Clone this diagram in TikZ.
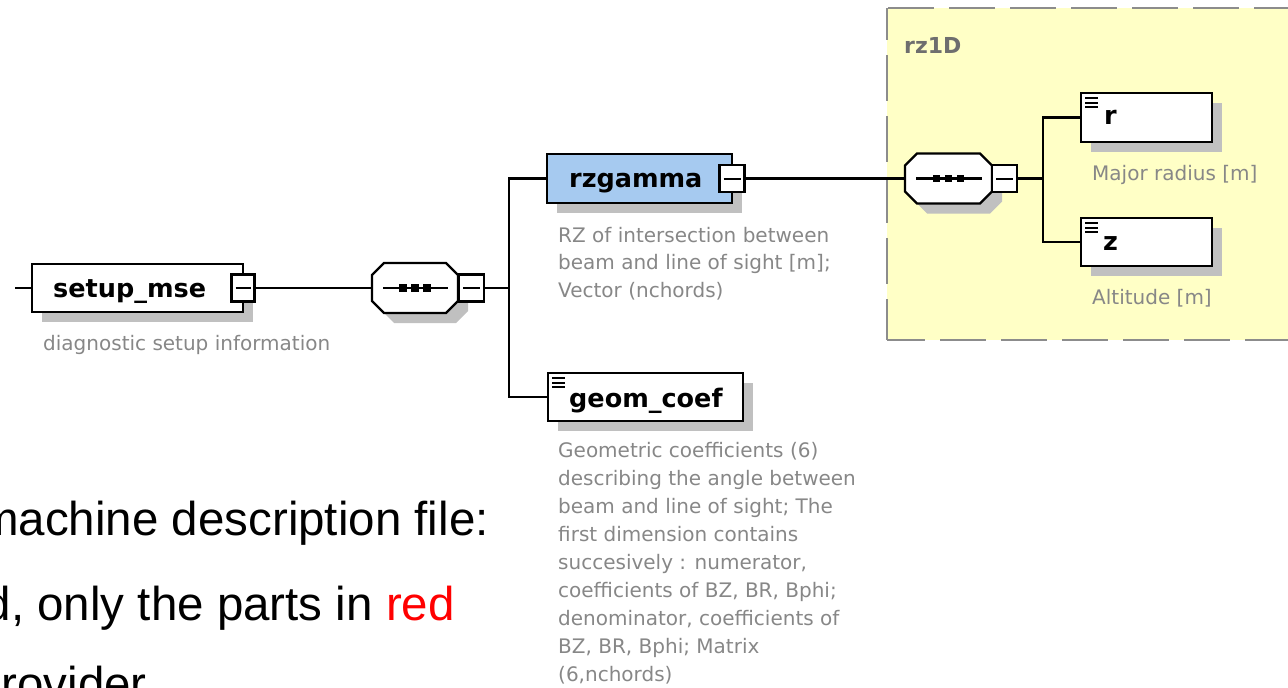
\documentclass[tikz,border=0pt]{standalone}
\usepackage{fontspec}
\setmainfont{DejaVu Sans}
\newfontfamily\slidefont{Liberation Sans}
\usetikzlibrary{calc}
\pgfdeclarelayer{bg}
\pgfdeclarelayer{shadow}
\pgfsetlayers{bg,shadow,main}

\definecolor{descgray}{RGB}{135,135,135}
\definecolor{shadowgray}{RGB}{192,192,192}
\definecolor{rzblue}{RGB}{166,202,240}
\definecolor{yellowbg}{RGB}{255,255,198}
\definecolor{dashgray}{RGB}{140,140,140}
\definecolor{labelgray}{RGB}{110,110,110}
\definecolor{slidered}{RGB}{255,0,0}

\newcommand{\titlefont}{\fontsize{25.5}{30}\selectfont\bfseries}
\newcommand{\descfont}{\fontsize{20}{27.8}\selectfont}
\newcommand{\octpath}[2]{($(#1.north west)+({12+#2},{#2})$) -- ($(#1.north east)+({-12+#2},{#2})$) -- ($(#1.north east)+({#2},{12+#2})$) -- ($(#1.south east)+({#2},{-12+#2})$) -- ($(#1.south east)+({-12+#2},{#2})$) -- ($(#1.south west)+({12+#2},{#2})$) -- ($(#1.south west)+({#2},{-12+#2})$) -- ($(#1.north west)+({#2},{12+#2})$) -- cycle}
\newcommand{\boxshadow}[1]{\fill[shadowgray] ($(#1.north west)+(10,10)$) rectangle ($(#1.south east)+(10,10)$);}
\newcommand{\seqdots}[1]{%
  \draw[line width=2.2pt] ($(#1.west)+(11,0)$) -- ($(#1.east)+(-10,0)$);
  \foreach \dx in {-12,0,12}{\fill ($(#1.center)+(\dx,0)+(-3.8,-3.8)$) rectangle +(7.6,7.6);}}
\newcommand{\equivicon}[1]{%
  \foreach \dy in {5,9.5,14}{\draw[line width=2pt] ($(#1.north west)+(4,\dy)$) -- +(13,0);}}

\begin{document}
\begin{tikzpicture}[x=1pt,y=-1pt,
  elbox/.style={draw=black, line width=2.4pt, fill=white, anchor=north west, inner sep=0pt, outer sep=0pt},
  seqbox/.style={draw=none, anchor=north west, inner sep=0pt, outer sep=0pt},
  minusbox/.style={draw=black, line width=2.2pt, fill=white, minimum width=25, minimum height=27, inner sep=0pt, outer sep=0pt,
    path picture={\draw[line width=2pt] ($(path picture bounding box.west)+(4,0)$) -- ($(path picture bounding box.east)+(-4,0)$);}},
  conn/.style={draw=black, line width=2.2pt},
  titletext/.style={anchor=base west, inner sep=0pt, font=\titlefont, text=black},
  desctext/.style={anchor=base west, inner sep=0pt, font=\descfont, text=descgray},
  slidetext/.style={inner sep=0pt, font=\slidefont\fontsize{47.5}{57}\selectfont, text=black},
  dashedge/.style={draw=dashgray, line width=2.2pt, dash pattern=on 46pt off 15pt}
]
\useasboundingbox (0,0) rectangle (1288,688);

% rz1D group background
\begin{pgfonlayer}{bg}
  \fill[yellowbg] (887,8) rectangle (1288,340);
  \draw[dashedge] (888,8) -- (1288,8);
  \draw[dashedge, dash phase=14pt] (887,8) -- (887,340);
  \draw[dashedge, dash phase=8pt] (887,340) -- (1288,340);
\end{pgfonlayer}
\node[anchor=base west, inner sep=0pt, font=\fontsize{22}{26}\selectfont\bfseries, text=labelgray] (rzlabel) at (904,53) {rz1D};

% setup_mse
\coordinate (start) at (15,288);
\node[elbox, minimum width=211, minimum height=48] (setup) at (32,264) {};
\node[titletext] (setupT) at (53,297) {setup\_mse};
\node[minusbox, minimum width=23] (setupM) at (setup.east) {};
\node[desctext] (setupD) at (43,350) {diagnostic setup information};

% sequence 1
\node[seqbox, minimum width=86, minimum height=50] (seq1) at (372,263) {};
\draw[line width=2.4pt, fill=white] \octpath{seq1}{0};
\seqdots{seq1}
\node[minusbox, anchor=west] (seq1M) at ($(seq1.east)+(1,0)$) {};
\coordinate (j1) at (509,288);

% rzgamma
\node[elbox, fill=rzblue, minimum width=185, minimum height=49] (rz) at (547,154) {};
\node[titletext] (rzT) at (569,187) {rzgamma};
\node[minusbox] (rzM) at (rz.east) {};
\node[desctext] (rzD) at (558,242) {\begin{tabular}[t]{@{}l@{}}RZ of intersection between\\beam and line of sight [m];\\Vector (nchords)\end{tabular}};

% geom_coef
\node[elbox, minimum width=195, minimum height=48] (geom) at (548,373) {};
\node[titletext] (geomT) at (569,407) {geom\_coef};
\node[desctext] (geomD) at (558,457) {\fontsize{20}{28}\selectfont\begin{tabular}[t]{@{}l@{}}Geometric coefficients (6)\\describing the angle between\\beam and line of sight; The\\first dimension contains\\succesively : numerator,\\coefficients of BZ, BR, Bphi;\\denominator, coefficients of\\BZ, BR, Bphi; Matrix\\(6,nchords)\end{tabular}};

% sequence 2
\node[seqbox, minimum width=87, minimum height=50] (seq2) at (905,153.5) {};
\draw[line width=2.4pt, fill=white] \octpath{seq2}{0};
\seqdots{seq2}
\node[minusbox, anchor=west] (seq2M) at (seq2.east) {};
\coordinate (j2) at (1043,178.5);

% r and z
\node[elbox, minimum width=131, minimum height=49] (r) at (1081,93) {};
\node[titletext] (rT) at (1104,124) {r};
\node[desctext] (rD) at (1092,180) {Major radius [m]};
\node[elbox, minimum width=131, minimum height=48] (z) at (1081,218) {};
\node[titletext] (zT) at (1103,250) {z};
\node[desctext] (zD) at (1092,304) {Altitude [m]};

\equivicon{geom}
\equivicon{r}
\equivicon{z}

% shadows
\begin{pgfonlayer}{shadow}
  \boxshadow{setup}
  \boxshadow{rz}
  \boxshadow{geom}
  \boxshadow{r}
  \boxshadow{z}
  \fill[shadowgray] \octpath{seq1}{10};
  \fill[shadowgray] \octpath{seq2}{10};
\end{pgfonlayer}

% connectors
\draw[conn] (start) -- (setup.west);
\draw[conn] (setupM.east) -- (seq1.west);
\draw[conn] (seq1M.east) -- (j1);
\draw[conn] (rz.west) -| (j1) |- (geom.west);
\draw[conn] (rzM.east) -- (seq2.west);
\draw[conn] (seq2M.east) -- (j2);
\draw[conn] (r.west) -| (j2) |- (z.west);

% slide text (cropped at the picture's edges, as in the reference)
\begin{scope}
  \clip (0,0) rectangle (1288,688);
  \node[slidetext, anchor=base east] (line1) at (489,535) {machine description file:};
  \node[slidetext, anchor=base east] (line2) at (455,620) {d, only the parts in \textcolor{slidered}{red}};
  \node[slidetext, anchor=base west] (line3) at (-25,700) {provider};
\end{scope}
\end{tikzpicture}
\end{document}
